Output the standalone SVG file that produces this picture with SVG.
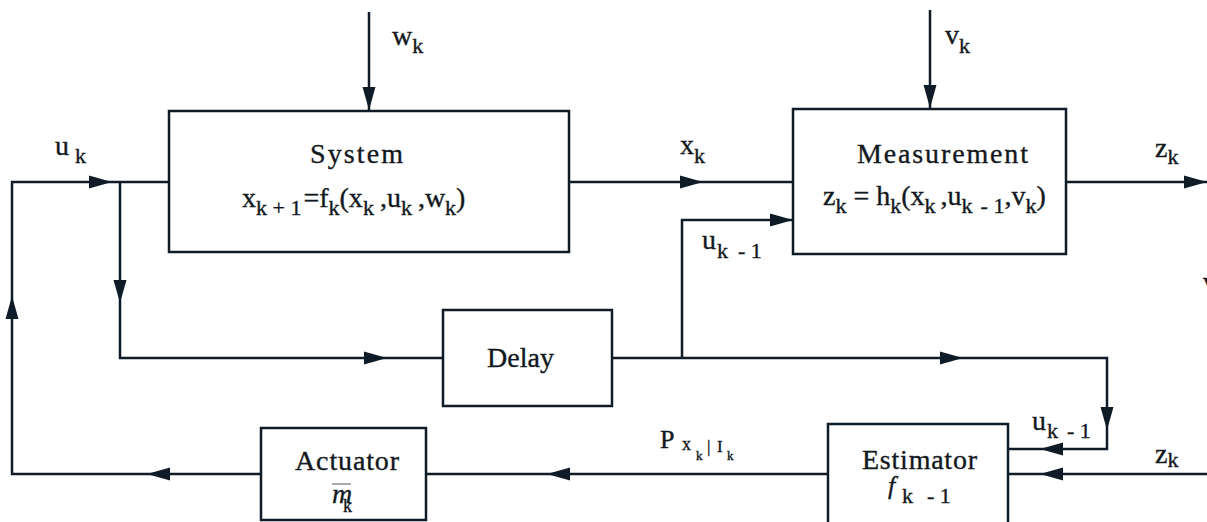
<svg xmlns="http://www.w3.org/2000/svg" width="1207" height="522" viewBox="0 0 1207 522" font-family="Liberation Serif, DejaVu Serif, serif">
<style>
  .box { fill: #ffffff; stroke: #0f1c28; stroke-width: 2.5; }
  .ln { fill: none; stroke: #0f1c28; stroke-width: 2.5; stroke-linejoin: miter; }
  .ah { fill: #0f1c28; }
  .t { font-family: "Liberation Serif", "DejaVu Serif", serif; fill: #121820; stroke: #121820; stroke-width: 0.35; font-size: 28px; }
  .sub { font-size: 22px; }
  .it { font-style: italic; }
</style>
<defs>
  <path id="ah" d="M0 0 L-23 -6.5 L-23 6.5 Z"/>
</defs>

<g id="connectors">
  <path class="ln" d="M369 12 V111"/>
  <path class="ln" d="M930 10 V109"/>
  <path class="ln" d="M261 474 H12 V182 H169"/>
  <path class="ln" d="M120 182 V358 H443"/>
  <path class="ln" d="M569 182 H793"/>
  <path class="ln" d="M1066 182 H1207"/>
  <path class="ln" d="M612 358 H1107 V449 H1008"/>
  <path class="ln" d="M682 358 V220 H793"/>
  <path class="ln" d="M1207 474 H1008"/>
  <path class="ln" d="M828 474 H426"/>
  <g class="ah">
    <use href="#ah" transform="translate(369 110) rotate(90)"/>
    <use href="#ah" transform="translate(930 108) rotate(90)"/>
    <use href="#ah" transform="translate(112 182)"/>
    <use href="#ah" transform="translate(703 182)"/>
    <use href="#ah" transform="translate(1207 182)"/>
    <use href="#ah" transform="translate(793 220)"/>
    <use href="#ah" transform="translate(12 296) rotate(-90)"/>
    <use href="#ah" transform="translate(120 303) rotate(90)"/>
    <use href="#ah" transform="translate(387 358)"/>
    <use href="#ah" transform="translate(963 358)"/>
    <use href="#ah" transform="translate(1107 430) rotate(90)"/>
    <use href="#ah" transform="translate(1040 449) rotate(180)"/>
    <use href="#ah" transform="translate(1040 474) rotate(180)"/>
    <use href="#ah" transform="translate(547 474) rotate(180)"/>
    <use href="#ah" transform="translate(147 474) rotate(180)"/>
  </g>
  <text class="t" x="392" y="45">w<tspan class="sub" dy="8">k</tspan></text>
  <text class="t" x="945" y="44">v<tspan class="sub" dy="9">k</tspan></text>
  <text class="t" x="55" y="155">u<tspan class="sub" x="75" dy="8">k</tspan></text>
  <text class="t" x="680" y="154">x<tspan class="sub" dy="9">k</tspan></text>
  <text class="t" x="1155" y="157">z<tspan class="sub" dy="7">k</tspan></text>
  <text class="t" x="702" y="249">u<tspan class="sub" x="717" dy="9">k</tspan><tspan class="sub" x="738">- 1</tspan></text>
  <text class="t" x="1032" y="430">u<tspan class="sub" x="1047" dy="8">k</tspan><tspan class="sub" x="1067">- 1</tspan></text>
  <text class="t" x="1155" y="463">z<tspan class="sub" dy="4">k</tspan></text>
  <text class="t" x="660" y="448" style="font-size:26px">P<tspan x="682" dy="2" style="font-size:18px">x</tspan><tspan x="696" dy="10" style="font-size:13px">k</tspan><tspan x="707" dy="-8" style="font-size:17px">|</tspan><tspan x="717" style="font-size:17px">I</tspan><tspan x="727" dy="8" style="font-size:13px">k</tspan></text>
  <text class="t" x="1203" y="291">v</text>
</g>

<g id="system">
  <rect class="box" x="169" y="111" width="400" height="141"/>
  <text class="t" x="310" y="163" textLength="93" lengthAdjust="spacing">System</text>
  <text class="t" x="242" y="207">x<tspan class="sub" dy="8">k + 1</tspan><tspan dx="2" dy="-8">=f</tspan><tspan class="sub" dy="8">k</tspan><tspan dy="-8">(x</tspan><tspan class="sub" dy="8">k</tspan><tspan dx="6" dy="-8">,u</tspan><tspan class="sub" dy="8">k</tspan><tspan dx="6" dy="-8">,w</tspan><tspan class="sub" dy="8">k</tspan><tspan dy="-8">)</tspan></text>
</g>

<g id="measurement">
  <rect class="box" x="793" y="109" width="273" height="145"/>
  <text class="t" x="857" y="163" textLength="171" lengthAdjust="spacing">Measurement</text>
  <text class="t" x="823" y="205">z<tspan class="sub" dy="8">k</tspan><tspan dy="-8"> = h</tspan><tspan class="sub" dy="8">k</tspan><tspan dy="-8">(x</tspan><tspan class="sub" dy="8">k</tspan><tspan dx="5" dy="-8">,u</tspan><tspan class="sub" dy="8">k</tspan><tspan class="sub" dx="8">- 1</tspan><tspan dy="-8">,v</tspan><tspan class="sub" dy="8">k</tspan><tspan dy="-8">)</tspan></text>
</g>

<g id="delay">
  <rect class="box" x="443" y="310" width="169" height="96"/>
  <text class="t" x="487" y="367" textLength="67" lengthAdjust="spacing">Delay</text>
</g>

<g id="actuator">
  <rect class="box" x="261" y="428" width="165" height="92"/>
  <text class="t" x="295" y="470" textLength="104" lengthAdjust="spacing">Actuator</text>
  <text class="t it" x="332" y="503">m</text>
  <line x1="332" y1="484" x2="351" y2="484" stroke="#555" stroke-width="1"/>
  <text class="t sub" x="343" y="512" style="font-size:18px">k</text>
</g>

<g id="estimator">
  <rect class="box" x="828" y="424" width="180" height="110"/>
  <text class="t" x="862" y="469" textLength="115" lengthAdjust="spacing">Estimator</text>
  <text class="t it" x="888" y="494" style="font-size:26px">f<tspan class="sub" x="902" dy="9" style="font-style:normal;font-size:22px">k</tspan><tspan class="sub" x="927" style="font-style:normal;font-size:22px">- 1</tspan></text>
</g>
</svg>
